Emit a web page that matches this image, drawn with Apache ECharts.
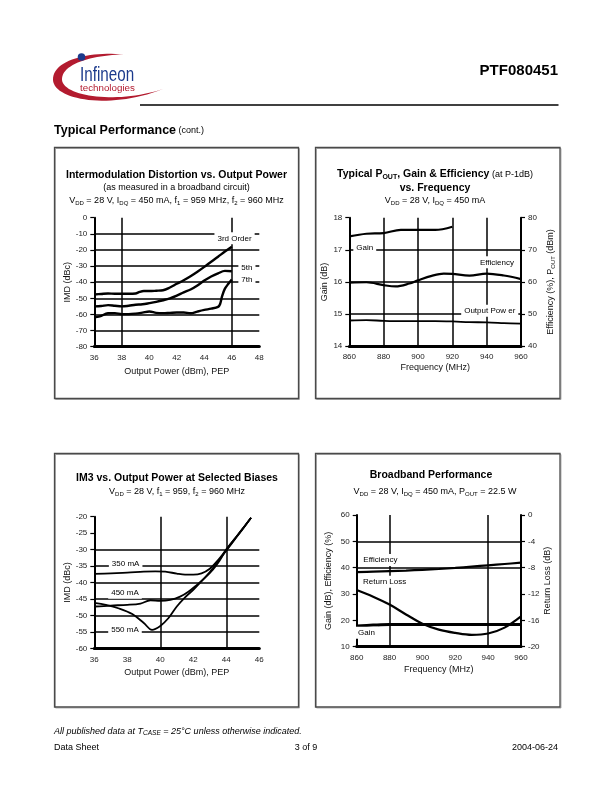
<!DOCTYPE html>
<html><head><meta charset="utf-8">
<script src="https://cdn.jsdelivr.net/npm/echarts@6/dist/echarts.min.js"></script>
<style>html,body{margin:0;padding:0;background:#fff}#c{width:612px;height:792px}</style>
</head><body><div id="c"></div>
<script>
// ---------- Chart 1: Intermodulation Distortion vs. Output Power ----------
const c1_x3 = [36, 36.5, 37, 37.5, 38, 38.5, 39, 39.3, 39.6, 40, 40.5, 41, 41.5, 42, 42.5, 43, 43.5, 44, 44.5, 45, 45.5, 46];
const c1_3rd = [-47.6, -47.3, -47.0, -47.2, -47.2, -47.2, -47.0, -46.0, -45.5, -45.5, -45.3, -45.0, -43.3, -41.0, -38.8, -36.3, -33.5, -30.5, -27.3, -24.2, -21.0, -18.0];
const c1_x5 = [36, 36.5, 37, 37.5, 38, 38.5, 39, 39.5, 40, 40.5, 41, 41.5, 42, 42.5, 43, 43.5, 44, 44.5, 45, 45.5, 46];
const c1_5th = [-55.0, -54.8, -54.2, -54.6, -55.0, -54.6, -54.0, -53.7, -53.0, -52.2, -51.2, -50.0, -48.3, -46.3, -44.5, -42.0, -39.0, -36.5, -34.5, -33.0, -33.2];
const c1_x7 = [36, 36.4, 37, 37.5, 38, 38.5, 39, 39.5, 40, 40.5, 41, 41.5, 42, 42.5, 43, 43.5, 44, 44.5, 45, 45.15, 45.3, 45.5, 45.75, 46];
const c1_7th = [-61.8, -61.2, -59.3, -59.2, -59.8, -59.8, -59.5, -58.9, -58.2, -59.0, -59.2, -59.0, -58.8, -58.8, -59.3, -58.2, -57.2, -56.4, -55.3, -53.5, -48.5, -44.0, -41.0, -38.3];
const c1_hGrid = [-10, -20, -30, -40, -50, -60, -70];
const c1_vGrid = [38, 46];
const c1_labels = [['3rd Order', 46.2, -12.8], ['5th', 47.1, -30.8], ['7th', 47.1, -38.6]];

// ---------- Chart 2: Typical Pout, Gain & Efficiency vs. Frequency ----------
const c2_xGain = [860, 870, 880, 890, 900, 910, 920];
const c2_gain = [17.42, 17.50, 17.52, 17.62, 17.62, 17.62, 17.72];
const c2_xEff = [860, 870, 880, 887, 895, 900, 908, 915, 920, 930, 940, 950, 960];
const c2_eff = [59.8, 59.9, 59.0, 58.6, 59.5, 60.5, 61.9, 62.6, 62.5, 62.0, 62.6, 62.0, 60.9];
const c2_xPout = [860, 870, 880, 890, 900, 910, 920, 930, 940, 950, 960];
const c2_pout = [48.0, 48.1, 47.9, 47.8, 47.8, 47.8, 47.7, 47.5, 47.4, 47.2, 47.0];
const c2_hGrid = [17, 16, 15];
const c2_vGrid = [880, 900, 920, 940, 960];
const c2_labelsLeft = [['Gain', 869, 17.05]];
const c2_labelsRight = [['Efficiency', 946, 66.1], ['Output Pow er', 941.8, 51.0]];

// ---------- Chart 3: IM3 vs. Output Power at Selected Biases ----------
const c3_x350 = [36, 37, 38, 39, 39.7, 40.3, 41, 41.5, 42, 42.5, 43, 43.5, 44, 44.5, 45, 45.5];
const c3_350 = [-37.4, -37.2, -37.0, -36.7, -36.6, -36.7, -37.3, -37.6, -37.6, -37.2, -35.8, -33.2, -30.0, -26.8, -23.6, -20.3];
const c3_x450 = [36, 37, 38, 38.8, 39.4, 40, 40.6, 41.2, 41.7, 42.2, 42.7, 43.2, 43.6, 44, 44.5, 45, 45.5];
const c3_450 = [-47.3, -47.0, -46.8, -46.4, -45.4, -45.6, -45.3, -44.3, -42.8, -40.8, -38.6, -36.0, -33.3, -30.0, -26.8, -23.6, -20.3];
const c3_x550 = [36, 36.7, 37.5, 38.3, 39, 39.5, 40, 40.5, 41, 41.5, 42, 42.5, 43, 43.5, 44, 44.5, 45, 45.5];
const c3_550 = [-46.2, -46.8, -47.9, -49.6, -52.3, -54.4, -53.2, -50.8, -47.3, -44.5, -42.2, -39.6, -36.8, -33.6, -30.3, -27.0, -23.7, -20.3];
const c3_hGrid = [-30, -35, -40, -45, -50, -55];
const c3_vGrid = [40, 44];
const c3_labels = [['350 mA', 37.9, -34.3], ['450 mA', 37.86, -43.1], ['550 mA', 37.86, -54.4]];

// ---------- Chart 4: Broadband Performance ----------
const c4_freq = [860, 870, 880, 890, 900, 910, 920, 930, 940, 950, 960];
const c4_gain = [17.9, 18.2, 18.4, 18.4, 18.4, 18.4, 18.4, 18.4, 18.4, 18.4, 18.4];
const c4_eff = [38.3, 38.5, 38.7, 38.9, 39.2, 39.5, 39.9, 40.4, 40.9, 41.4, 41.9];
const c4_rl = [-11.4, -12.4, -13.6, -15.1, -16.5, -17.4, -17.9, -18.2, -18.0, -17.1, -15.4];
const c4_hGrid = [50, 40];
const c4_vGrid = [880, 940];
const c4_labels = [['Efficiency', 874.4, 42.9], ['Return Loss', 877, 34.7], ['Gain', 866, 15.3]];

// ---------- helpers ----------
const FF = '"Liberation Sans", Arial, Helvetica, sans-serif';
const pairs = (xs, ys) => xs.map((x, i) => [x, ys[i]]);
const labStyle = { fontFamily: FF, fontSize: 8, color: '#222' };
const nameStyle = { fontFamily: FF, fontSize: 9, color: '#111' };

function xAx(grid, min, max, interval, name, gap) {
  return { type: 'value', gridIndex: grid, min, max, interval, name, nameLocation: 'middle', nameGap: gap,
    nameTextStyle: nameStyle,
    axisLine: { show: true, onZero: false, lineStyle: { color: '#000', width: 3 } },
    axisTick: { show: false }, axisLabel: { ...labStyle, margin: 7 }, splitLine: { show: false } };
}
function yAx(grid, min, max, interval, name, gap, pos, rich) {
  return { type: 'value', gridIndex: grid, min, max, interval, name, nameLocation: 'middle', nameGap: gap,
    position: pos || 'left',
    nameTextStyle: Object.assign({}, nameStyle, rich ? { rich } : {}),
    axisLine: { show: true, onZero: false, lineStyle: { color: '#000', width: 2 } },
    axisTick: { show: true, inside: false, length: 4, lineStyle: { color: '#000', width: 1.2 } },
    axisLabel: { ...labStyle, margin: 7 }, splitLine: { show: false } };
}
function gridMarks(h, v) {
  return { silent: true, symbol: ['none', 'none'], animation: false, label: { show: false },
    lineStyle: { color: '#000', width: 1.5, type: 'solid' },
    emphasis: { disabled: true },
    data: h.map(y => ({ yAxis: y })).concat(v.map(x => ({ xAxis: x }))) };
}
function ln(xi, yi, data, w, marks) {
  const s = { type: 'line', xAxisIndex: xi, yAxisIndex: yi, data, showSymbol: false, symbol: 'none',
    smooth: 0.35, silent: true, animation: false, lineStyle: { color: '#000', width: w || 2.2 } };
  if (marks) s.markLine = marks;
  return s;
}

const option = {
  animation: false,
  backgroundColor: '#fff',
  grid: [
    { left: 94.3, top: 217.7, width: 165, height: 129 },
    { left: 349.3, top: 217.7, width: 171.7, height: 128.5 },
    { left: 94.3, top: 516.7, width: 165, height: 131.6 },
    { left: 356.7, top: 515, width: 164.3, height: 131.7 }
  ],
  xAxis: [
    xAx(0, 36, 48, 2, 'Output Power (dBm), PEP', 20),
    xAx(1, 860, 960, 20, 'Frequency (MHz)', 17),
    xAx(2, 36, 46, 2, 'Output Power (dBm), PEP', 20),
    xAx(3, 860, 960, 20, 'Frequency (MHz)', 18)
  ],
  yAxis: [
    yAx(0, -80, 0, 10, 'IMD (dBc)', 20),
    yAx(1, 14, 18, 1, 'Gain (dB)', 16),
    yAx(1, 40, 80, 10, '{n|Efficiency (%), P}{s|OUT}{n| (dBm)}', 24, 'right',
      { n: { fontFamily: FF, fontSize: 9, color: '#111' }, s: { fontFamily: FF, fontSize: 6, color: '#111', padding: [5, 0, 0, 0] } }),
    yAx(2, -60, -20, 5, 'IMD (dBc)', 22),
    yAx(3, 10, 60, 10, 'Gain (dB), Efficiency (%)', 24),
    yAx(3, -20, 0, 4, 'Return Loss (dB)', 22, 'right')
  ],
  series: [
    ln(0, 0, pairs(c1_x3, c1_3rd), 2.4, gridMarks(c1_hGrid, c1_vGrid)),
    ln(0, 0, pairs(c1_x5, c1_5th), 2.4),
    ln(0, 0, pairs(c1_x7, c1_7th), 2.4),
    ln(1, 1, pairs(c2_xGain, c2_gain), 2.2, gridMarks(c2_hGrid, c2_vGrid)),
    ln(1, 2, pairs(c2_xEff, c2_eff), 2.2),
    ln(1, 2, pairs(c2_xPout, c2_pout), 1.8),
    ln(2, 3, pairs(c3_x350, c3_350), 1.8, gridMarks(c3_hGrid, c3_vGrid)),
    ln(2, 3, pairs(c3_x450, c3_450), 1.8),
    ln(2, 3, pairs(c3_x550, c3_550), 1.8),
    ln(3, 4, pairs(c4_freq, c4_gain), 3, gridMarks(c4_hGrid, c4_vGrid)),
    ln(3, 4, pairs(c4_freq, c4_eff), 2.2),
    ln(3, 5, pairs(c4_freq, c4_rl), 2.2)
  ]
};

const chart = echarts.init(document.getElementById('c'), null, { renderer: 'canvas' });
chart.setOption(option);

// ---------- page graphics ----------
const G = [];
function txt(x, y, text, o) {
  o = o || {};
  const el = { type: 'text', x, y, z: o.z || 50, silent: true,
    style: { text, fill: o.fill || '#000', fontFamily: o.ff || FF, fontSize: o.fs || 9, fontWeight: o.fw || 'normal',
      fontStyle: o.it ? 'italic' : 'normal',
      align: o.align || 'center', textAlign: o.align || 'center', verticalAlign: 'middle', textVerticalAlign: 'middle',
      backgroundColor: o.bg, padding: o.pad, rich: o.rich } };
  if (o.sx) el.scaleX = o.sx;
  G.push(el);
}
function annot(seriesIndex, list) {
  list.forEach(([t, x, y]) => {
    const p = chart.convertToPixel({ seriesIndex }, [x, y]);
    txt(p[0], p[1], t, { fs: 8, bg: '#fff', pad: [2, 3, 2, 3], z: 80 });
  });
}
function box(x1, y1, x2, y2) {
  G.push({ type: 'rect', z: 1, silent: true, shape: { x: x1 + 1, y: y1 + 1, width: x2 - x1, height: y2 - y1 },
    style: { fill: 'none', stroke: '#b0b0b0', lineWidth: 1 } });
  G.push({ type: 'rect', z: 2, silent: true, shape: { x: x1, y: y1, width: x2 - x1, height: y2 - y1 },
    style: { fill: 'none', stroke: '#4a4a4a', lineWidth: 1.3 } });
}
function bez(p0, p1, p2, p3, n) {
  const pts = [];
  for (let i = 0; i <= n; i++) {
    const t = i / n, u = 1 - t;
    pts.push([u*u*u*p0[0] + 3*u*u*t*p1[0] + 3*u*t*t*p2[0] + t*t*t*p3[0],
              u*u*u*p0[1] + 3*u*u*t*p1[1] + 3*u*t*t*p2[1] + t*t*t*p3[1]]);
  }
  return pts;
}

box(54.5, 147.5, 298.5, 398.5);
box(315.5, 147.5, 560, 398.5);
box(54.5, 453.5, 298.5, 707);
box(315.5, 453.5, 560, 707);

const sub = { fontFamily: FF, fontSize: 6, padding: [5, 0, 0, 0], fill: '#000' };
const r9 = { fontFamily: FF, fontSize: 9 };
const b10 = { fontFamily: FF, fontSize: 10.5, fontWeight: 'bold' };

// Chart 1 titles
txt(176.5, 175, 'Intermodulation Distortion vs. Output Power', { fs: 10.5, fw: 'bold' });
txt(176.5, 187.5, '(as measured in a broadband circuit)', { fs: 9 });
txt(176.5, 201, '{r|V}{s|DD}{r| = 28 V, I}{s|DQ}{r| = 450 mA, f}{s|1}{r| = 959 MHz, f}{s|2}{r| = 960 MHz}',
  { rich: { r: r9, s: sub } });
// Chart 2 titles
txt(435, 174.5, '{b|Typical P}{bs|OUT}{b|, Gain & Efficiency} {r|(at P-1dB)}',
  { rich: { b: b10, bs: { fontFamily: FF, fontSize: 7, fontWeight: 'bold', padding: [5, 0, 0, 0] }, r: r9 } });
txt(435, 188.5, 'vs. Frequency', { fs: 10.5, fw: 'bold' });
txt(435, 201, '{r|V}{s|DD}{r| = 28 V, I}{s|DQ}{r| = 450 mA}', { rich: { r: r9, s: sub } });
// Chart 3 titles
txt(177, 478.5, 'IM3 vs. Output Power at Selected Biases', { fs: 10.5, fw: 'bold' });
txt(177, 492, '{r|V}{s|DD}{r| = 28 V, f}{s|1}{r| = 959, f}{s|2}{r| = 960 MHz}', { rich: { r: r9, s: sub } });
// Chart 4 titles
txt(431, 475, 'Broadband Performance', { fs: 10.5, fw: 'bold' });
txt(435, 491.7, '{r|V}{s|DD}{r| = 28 V, I}{s|DQ}{r| = 450 mA, P}{s|OUT}{r| = 22.5 W}', { rich: { r: r9, s: sub } });

// annotations
annot(0, c1_labels);
annot(3, c2_labelsLeft);
annot(4, c2_labelsRight);
annot(6, c3_labels);
annot(9, c4_labels);

// header: logo swoosh
const swoosh = [].concat(
  bez([124, 54.5], [90, 51], [52, 60], [53, 80], 24),
  bez([53, 80], [54, 100], [110, 110], [163, 89], 30),
  bez([163, 89], [118, 104], [64, 97], [62, 80], 30),
  bez([62, 80], [61, 64], [92, 55], [124, 54.5], 24)
);
G.push({ type: 'polygon', z: 3, silent: true, shape: { points: swoosh }, style: { fill: '#b31b2f' } });
G.push({ type: 'circle', z: 4, silent: true, shape: { cx: 81.5, cy: 57, r: 3.8 }, style: { fill: '#1b3a8c' } });
txt(80, 75, 'Infineon', { fs: 20, fill: '#1b3a8c', align: 'left', sx: 0.76 });
txt(80, 89, 'technologies', { fs: 8.5, fill: '#b31b2f', align: 'left', sx: 1.15 });
txt(558, 71, 'PTF080451', { fs: 15, fw: 'bold', align: 'right' });
G.push({ type: 'line', z: 3, silent: true, shape: { x1: 140, y1: 105, x2: 558.5, y2: 105 }, style: { stroke: '#000', lineWidth: 1.5 } });
txt(54, 131, '{b|Typical Performance} {r|(cont.)}', { align: 'left',
  rich: { b: { fontFamily: FF, fontSize: 12.5, fontWeight: 'bold' }, r: { fontFamily: FF, fontSize: 9 } } });

// footer
txt(54, 731, '{i|All published data at T}{s|CASE}{i| = 25°C unless otherwise indicated.}', { align: 'left',
  rich: { i: { fontFamily: FF, fontSize: 9, fontStyle: 'italic' }, s: { fontFamily: FF, fontSize: 6.5, fontStyle: 'italic', padding: [5, 0, 0, 0] } } });
txt(54, 748, 'Data Sheet', { fs: 9, align: 'left' });
txt(306, 748, '3 of 9', { fs: 9 });
txt(558, 748, '2004-06-24', { fs: 9, align: 'right' });

chart.setOption({ graphic: { elements: G } });
</script>
</body></html>
